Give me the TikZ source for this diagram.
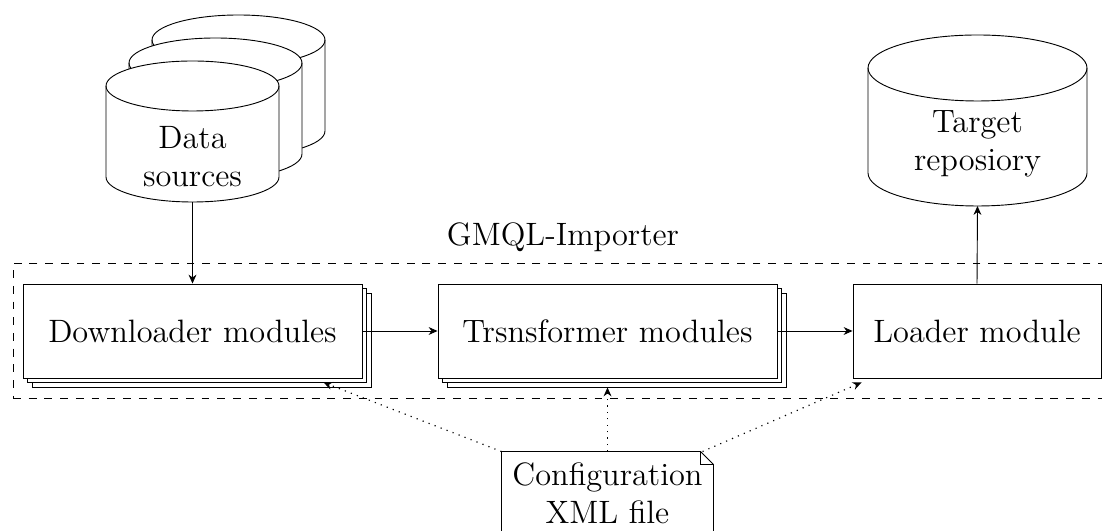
\documentclass[tikz,border=0pt]{standalone}
\usetikzlibrary{shadows,calc,arrows.meta}
\newcommand\pxu{0.3817pt}
\newcommand\cylbody[5]{%
  \draw[fill=white] ({#1-#4},#3) -- ({#1-#4},#2)
     arc[start angle=180,end angle=0,x radius=#4*\pxu,y radius=#5*\pxu]
     -- ({#1+#4},#3)
     arc[start angle=0,end angle=-180,x radius=#4*\pxu,y radius=#5*\pxu] -- cycle;
  \draw ({#1-#4},#2) arc[start angle=180,end angle=360,x radius=#4*\pxu,y radius=#5*\pxu];}
\begin{document}
\begin{tikzpicture}[x=0.3817pt,y=-0.3817pt,line width=0.35pt,
  >={Stealth[length=3.4pt,width=3pt]},
  tx/.style={font=\fontsize{12.35}{14.5}\selectfont, align=center},
  modbox/.style={tx, draw, fill=white, rectangle, inner sep=0pt,
     minimum height=94*\pxu,
     double copy shadow={shadow xshift=1.75pt, shadow yshift=-1.75pt}},
  cfgarrow/.style={->, dotted, line width=0.45pt}]
\path[use as bounding box, clip] (0,0) rectangle (1102,531);
% importer frame
\node[draw, dashed, minimum width=1100*\pxu, minimum height=135*\pxu, inner sep=0pt] (imp) at (563,330.5) {};
\node[tx, anchor=south, inner sep=4pt] (implabel) at (imp.north) {GMQL-Importer};
% modules
\node[modbox, minimum width=339*\pxu] (down) at (192.5,331) {Downloader modules};
\node[modbox, minimum width=339*\pxu] (trans) at (607.5,331) {Trsnsformer modules};
\node[tx, draw, fill=white, inner sep=0pt, minimum width=248*\pxu, minimum height=94*\pxu] (loader) at (977,331) {Loader module};
% data sources (stacked cylinders)
\cylbody{238.5}{40}{131}{86.5}{25}
\cylbody{215.5}{63}{154}{86.5}{25}
\cylbody{192.5}{86}{177}{86.5}{25}
\node[tx, inner sep=0pt, minimum width=173*\pxu, minimum height=91*\pxu] (ds) at (192.5,156.5) {Data\\sources};
% target repository
\cylbody{977.5}{68}{173}{109.5}{33}
\node[tx, inner sep=0pt] (tgt) at (977.5,144) {Target\\reposiory};
\coordinate (tgtbot) at (977.5,206);
% configuration note
\node[tx, inner sep=4pt] (cfg) at (607.5,493) {Configuration\\XML file};
\draw (cfg.south west) -- (cfg.north west) -- ($(cfg.north east)+(-13,0)$) -- ($(cfg.north east)+(0,13)$) -- (cfg.south east);
\draw ($(cfg.north east)+(-13,0)$) |- ($(cfg.north east)+(0,13)$);
% connectors
\draw[->] (ds.south) -- (down.north);
\draw[->] (down.east) -- (trans.west);
\draw[->] (trans.east) -- (loader.west);
\draw[->] (loader.north) -- (tgtbot);
\draw[cfgarrow] (cfg.north west) -- ($(down.south east)+(-39,4)$);
\draw[cfgarrow] (cfg.north) -- ($(trans.south)+(0,9)$);
\draw[cfgarrow] ($(cfg.north east)+(-11,0)$) -- ($(loader.south west)+(9,4)$);
\end{tikzpicture}
\end{document}
